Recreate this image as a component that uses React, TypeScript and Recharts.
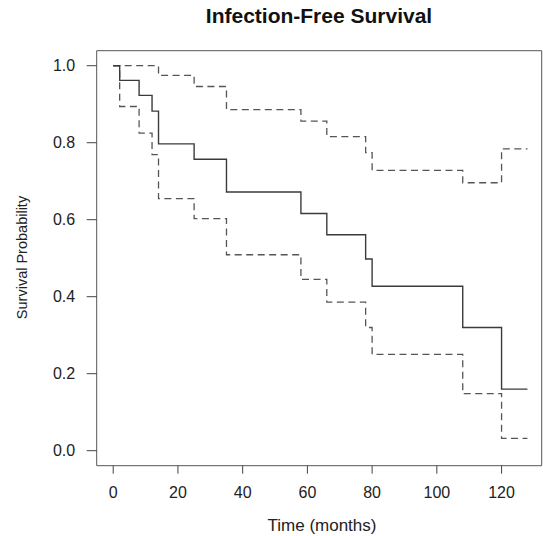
import React from "react";
import { LineChart, Line, XAxis, YAxis, ReferenceArea } from "recharts";

const times = [0, 2, 8, 12, 14, 25, 35, 58, 66, 78, 80, 108, 120, 128];
const survival = [1.0, 0.962, 0.923, 0.882, 0.797, 0.757, 0.672, 0.616, 0.561, 0.498, 0.427, 0.32, 0.16, 0.16];
const upperCI = [1.0, 1.0, 1.0, 1.0, 0.975, 0.946, 0.886, 0.856, 0.816, 0.774, 0.728, 0.696, 0.784, 0.784];
const lowerCI = [1.0, 0.894, 0.825, 0.769, 0.655, 0.603, 0.509, 0.445, 0.386, 0.32, 0.25, 0.148, 0.032, 0.032];

const xTicks = [0, 20, 40, 60, 80, 100, 120];
const yTicks = [0, 0.2, 0.4, 0.6, 0.8, 1.0];

const title = "Infection-Free Survival";
const xLabel = "Time (months)";
const yLabel = "Survival Probability";

const X_DOMAIN: [number, number] = [-5.1, 132.4];
const Y_DOMAIN: [number, number] = [-0.039, 1.039];

const data = times.map((t, i) => ({
  t,
  surv: survival[i],
  upper: upperCI[i],
  lower: lowerCI[i],
}));

const FONT = "'Liberation Sans', Arial, Helvetica, sans-serif";

export default function App() {
  const W = 543;
  const H = 536;
  return (
    <div style={{ position: "absolute", left: 0, top: 0, width: W, height: H, background: "#fff", fontFamily: FONT }}>
      <LineChart
        width={W}
        height={H}
        data={data}
        margin={{ top: 50.7, right: 1.3, bottom: 30.3, left: 36.7 }}
      >
        <ReferenceArea
          x1={X_DOMAIN[0]}
          x2={X_DOMAIN[1]}
          y1={Y_DOMAIN[0]}
          y2={Y_DOMAIN[1]}
          fill="none"
          fillOpacity={0}
          stroke="#555"
          strokeWidth={1}
          ifOverflow="visible"
        />
        <XAxis
          dataKey="t"
          type="number"
          domain={X_DOMAIN}
          allowDataOverflow
          ticks={xTicks}
          height={40}
          axisLine={false}
          tickLine={{ stroke: "#444", strokeWidth: 1 }}
          tickSize={8}
          tickMargin={13}
          tick={{ fill: "#222", fontSize: 16, fontFamily: FONT }}
          interval={0}
        />
        <YAxis
          type="number"
          domain={Y_DOMAIN}
          allowDataOverflow
          ticks={yTicks}
          width={60}
          axisLine={false}
          tickLine={{ stroke: "#444", strokeWidth: 1 }}
          tickSize={10}
          tickMargin={11.5}
          tick={{ fill: "#222", fontSize: 16, fontFamily: FONT }}
          tickFormatter={(v: number) => v.toFixed(1)}
          interval={0}
        />
        <Line
          type="stepAfter"
          dataKey="upper"
          stroke="#555"
          strokeWidth={1.3}
          strokeDasharray="7 4.5"
          dot={false}
          activeDot={false}
          isAnimationActive={false}
        />
        <Line
          type="stepAfter"
          dataKey="lower"
          stroke="#555"
          strokeWidth={1.3}
          strokeDasharray="7 4.5"
          dot={false}
          activeDot={false}
          isAnimationActive={false}
        />
        <Line
          type="stepAfter"
          dataKey="surv"
          stroke="#3a3a3a"
          strokeWidth={1.4}
          dot={false}
          activeDot={false}
          isAnimationActive={false}
        />
      </LineChart>
      <svg
        width={W}
        height={H}
        style={{ position: "absolute", left: 0, top: 0, pointerEvents: "none" }}
      >
        <text x={319} y={22.7} textAnchor="middle" fontWeight="bold" fontSize={21} fill="#111" fontFamily={FONT}>
          {title}
        </text>
        <text x={322} y={531} textAnchor="middle" fontSize={17} fill="#222" fontFamily={FONT}>
          {xLabel}
        </text>
        <text
          x={27}
          y={257.5}
          textAnchor="middle"
          fontSize={14.5}
          fill="#222"
          fontFamily={FONT}
          transform="rotate(-90, 27, 257.5)"
        >
          {yLabel}
        </text>
      </svg>
    </div>
  );
}
